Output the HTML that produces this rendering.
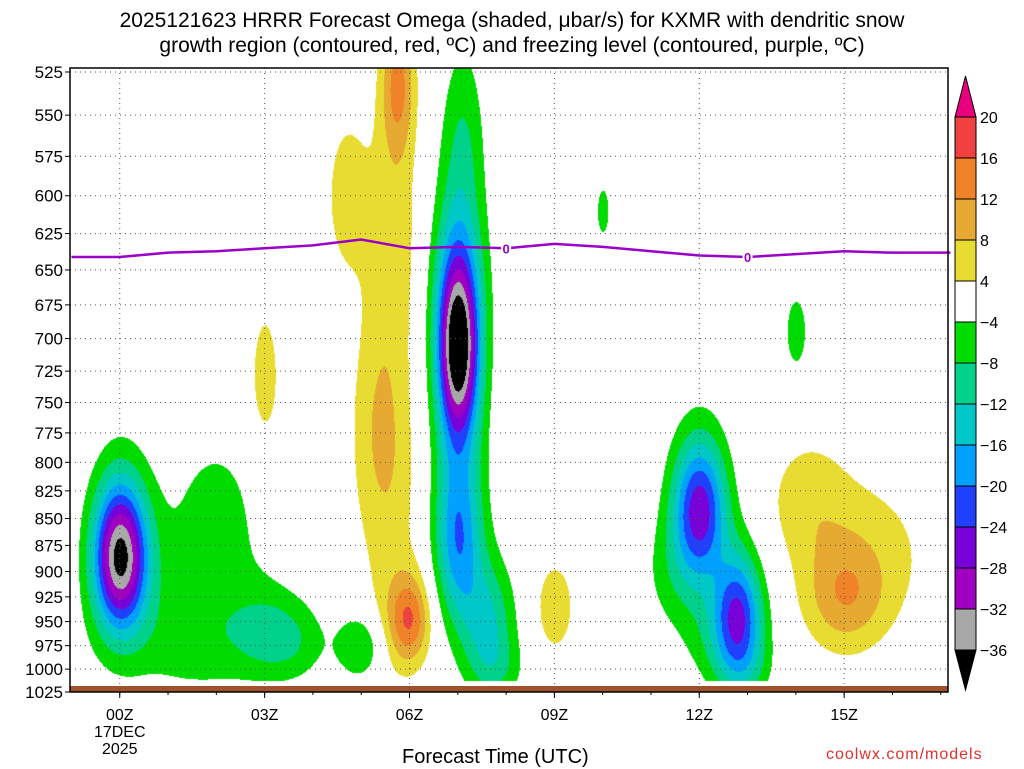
<!DOCTYPE html>
<html><head><meta charset="utf-8"><style>
body{margin:0;background:#fff;width:1024px;height:768px;overflow:hidden;position:relative;font-family:"Liberation Sans","DejaVu Sans",sans-serif;}
.t{position:absolute;white-space:nowrap;color:#000;}
</style></head><body>
<div class="t" style="left:0;width:1024px;text-align:center;top:8px;font-size:21px;line-height:25px;">2025121623 HRRR Forecast Omega (shaded, μbar/s) for KXMR with dendritic snow<br>growth region (contoured, red, ºC) and freezing level (contoured, purple, ºC)</div>
<canvas id="cv" width="878" height="624" style="position:absolute;left:70px;top:68px"></canvas>
<svg id="sv" width="1024" height="768" style="position:absolute;left:0;top:0"></svg>
<div class="t" style="left:402px;top:746px;font-size:20px;">Forecast Time (UTC)</div>
<div class="t" style="left:826px;top:746px;font-size:16px;color:#e03030;letter-spacing:1px;">coolwx.com/models</div>
<script>
// data
const pTicks=[525,550,575,600,625,650,675,700,725,750,775,800,825,850,875,900,925,950,975,1000,1025];
const hTicks=[0,3,6,9,12,15];
const hLabels=["00Z","03Z","06Z","09Z","12Z","15Z"];
const levels=[-36,-32,-28,-24,-20,-16,-12,-8,-4,4,8,12,16,20];
const levelColors=["#000000","#a8a8a8","#a000c0","#7800d8","#2040ff","#00a0ff","#00c8c8","#00d28c","#00dc00","#ffffff","#e8dc32","#e6aa32","#f08228","#f04040","#e8007e"];
// blobs: hour, pressure, amplitude, sigmaHour, sigmaP
const blobH=[0,1.8,2.0,3.0,3.6,5.0,7.0,7.1,7.0,7.0,7.0,7.6,10.0,12.0,12.8,11.5,12.5,14.0,5.75,5.7,5.4,5.6,6.0,5.8,4.7,3.0,9.0,15.0,15.5,14.2,1.5,7.8,12.9];
const blobP=[885,890,830,960,970,975,705,560,650,870,790,950,610,840,940,900,960,695,530,620,760,860,945,960,600,730,935,925,880,830,975,1000,1000];
const blobA=[-37,-5.5,-3,-5,-5,-9,-36,-6,-7,-16,-6,-12,-6,-26,-20,-5,-7,-6,12,6,7,4,11,5,6,6,7,9,5,5,-4.5,-5,-5];
const blobSH=[0.4,1.0,0.4,0.5,0.5,0.35,0.3,0.3,0.45,0.35,0.4,0.4,0.12,0.4,0.35,0.5,0.6,0.2,0.25,0.4,0.45,0.5,0.28,0.45,0.35,0.25,0.3,0.6,1.1,0.6,1.4,0.4,0.4];
const blobSP=[50,65,30,30,30,25,50,40,60,55,80,45,15,45,45,40,40,25,30,60,70,80,30,40,40,45,35,40,60,40,40,25,25];
const frzH=[-1,0,1,2,3,4,5,6,7,8,9,10,11,12,13,14,15,16,17.2];
const frzP=[641,641,638,637,635,633,629,635,634,635,632,634,637,640,641,639,637,638,638];

const X0=70,X1=948,Y0=68,Y1=692,HMIN=-1.03,HMAX=17.15,PT=525,PB=1025;
const xs=h=>X0+(h-HMIN)/(HMAX-HMIN)*(X1-X0);
const ys=p=>72+Math.log(p/PT)/Math.log(PB/PT)*(692-72);
const hx=x=>HMIN+(x-X0)/(X1-X0)*(HMAX-HMIN);
const py=y=>PT*Math.exp((y-72)/(692-72)*Math.log(PB/PT));
function rgb(c){return [parseInt(c.substr(1,2),16),parseInt(c.substr(3,2),16),parseInt(c.substr(5,2),16)];}
const cols=levelColors.map(rgb);
const cv=document.getElementById('cv'),ctx=cv.getContext('2d');
const W=cv.width,H=cv.height,img=ctx.createImageData(W,H);
for(let j=0;j<H;j++){const p=py(j+Y0);
 for(let i=0;i<W;i++){const h=hx(i+X0);let v=0;
  for(let k=0;k<blobH.length;k++){const dx=(h-blobH[k])/blobSH[k],dp=(p-blobP[k])/blobSP[k];const r=dx*dx+dp*dp;if(r<30)v+=blobA[k]*Math.exp(-0.5*r);}
  if(p>1012)v=0;
  let idx=0;while(idx<levels.length&&v>=levels[idx])idx++;
  const c=cols[idx],o=(j*W+i)*4;img.data[o]=c[0];img.data[o+1]=c[1];img.data[o+2]=c[2];img.data[o+3]=255;}}
ctx.putImageData(img,0,0);
const sv=document.getElementById('sv');const NS="http://www.w3.org/2000/svg";
function mk(t,a,p){const e=document.createElementNS(NS,t);for(const k in a)e.setAttribute(k,a[k]);(p||sv).appendChild(e);return e;}
const gr=mk('rect',{x:X0,y:686,width:X1-X0,height:6,fill:'#a0522d'});


pTicks.forEach(p=>{const y=ys(p);
 const l=mk('line',{x1:X0,x2:X1,y1:y,y2:y,stroke:'#555','stroke-width':1,'stroke-dasharray':'1,4'});
 
 
 mk('line',{x1:X0-5,x2:X0,y1:y,y2:y,stroke:'#000'});
 const t=mk('text',{x:X0-7,y:y+6,'text-anchor':'end','font-size':17,'font-family':'Liberation Sans, sans-serif'});t.textContent=p;
 
 });
hTicks.forEach((h,i)=>{const x=xs(h);
 const l=mk('line',{x1:x,x2:x,y1:Y0,y2:Y1,stroke:'#555','stroke-width':1,'stroke-dasharray':'1,4'});
 
 
 mk('line',{x1:x,x2:x,y1:Y1,y2:Y1+6,stroke:'#000'});
 const t=mk('text',{x:x,y:720,'text-anchor':'middle','font-size':16,'font-family':'Liberation Sans, sans-serif'});t.textContent=hLabels[i];
 
 });
for(let h=0;h<=17;h++){const x=xs(h);mk('line',{x1:x,x2:x,y1:Y1,y2:Y1+3,stroke:'#000'});}
[["17DEC",737],["2025",754]].forEach(a=>{const t=mk('text',{x:xs(0),y:a[1],'text-anchor':'middle','font-size':16,'font-family':'Liberation Sans, sans-serif'});t.textContent=a[0];
 
 });
const fl=mk('polyline',{points:frzH.map((h,i)=>xs(h)+','+ys(frzP[i])).join(' '),fill:'none',stroke:'#9a00c8','stroke-width':2.5});


[8,13].forEach(h=>{const i=frzH.indexOf(h);const x=xs(h),y=ys(frzP[i]);
 mk('rect',{x:x-5,y:y-7,width:10,height:14,fill:'#fff'});
 const t=mk('text',{x:x,y:y+5,'text-anchor':'middle','font-size':13,'font-weight':'bold',fill:'#9a00c8','font-family':'Liberation Sans, sans-serif'});t.textContent='0';
 
 });
const fr=mk('rect',{x:X0,y:Y0,width:X1-X0,height:Y1-Y0,fill:'none',stroke:'#000','stroke-width':1.5});


const cbX=955,cbW=21,cbTop=117,step=41;
const cb=mk('g',{});


mk('polygon',{points:`${cbX},${cbTop} ${cbX+cbW},${cbTop} ${cbX+cbW/2},${cbTop-41}`,fill:levelColors[14],stroke:'#000'},cb);
for(let k=13;k>=1;k--){const y=cbTop+(13-k)*step;
 mk('rect',{x:cbX,y:y,width:cbW,height:step,fill:levelColors[k],stroke:'#000'},cb);}
const cbBot=cbTop+13*step;
mk('polygon',{points:`${cbX},${cbBot} ${cbX+cbW},${cbBot} ${cbX+cbW/2},${cbBot+40}`,fill:levelColors[0],stroke:'#000'},cb);
for(let k=13;k>=0;k--){const y=cbTop+(13-k)*step;
 const t=mk('text',{x:cbX+cbW+4,y:y+6,'font-size':16,'font-family':'Liberation Sans, sans-serif'},cb);t.textContent=String(levels[k]).replace('-','−');
 
 }
</script>
</body></html>
